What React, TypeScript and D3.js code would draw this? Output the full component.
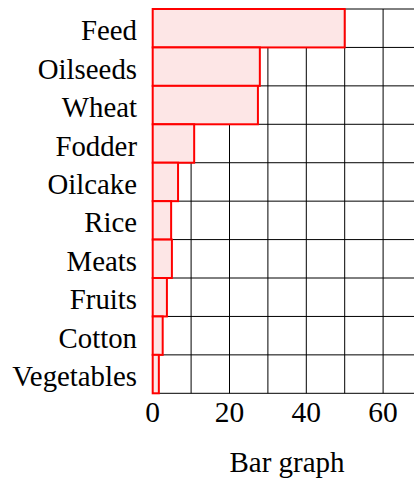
import React from "react";
import * as d3 from "d3";

const categories = ["Feed", "Oilseeds", "Wheat", "Fodder", "Oilcake", "Rice", "Meats", "Fruits", "Cotton", "Vegetables"];
const values = [50, 27.9, 27.4, 10.8, 6.6, 4.8, 5.0, 3.7, 2.6, 1.6];
const xTicks = [0, 20, 40, 60];
const xGrid = [0, 10, 20, 30, 40, 50, 60];
const xLabel = "Bar graph";

const W = 414, H = 478;
const left = 152.7, top = 9, bottom = 393.3, right = 414;

export default function App() {
  const x = d3.scaleLinear().domain([0, 68]).range([left, left + 68 * 3.84]);
  const y = d3.scaleBand<string>().domain(categories).range([top, bottom]).padding(0);
  const font = "'Liberation Serif', 'Times New Roman', serif";
  const rowLines = categories.map((c) => y(c)!).concat([bottom]);
  return (
    <svg width={W} height={H} style={{ position: "absolute", left: 0, top: 0 }}>
      <rect x={0} y={0} width={W} height={H} fill="#fff" />
      {xGrid.map((t) => (
        <line key={"v" + t} x1={x(t)} x2={x(t)} y1={top} y2={bottom} stroke="#000" strokeWidth={1} />
      ))}
      {rowLines.map((yy, i) => (
        <line key={"h" + i} x1={left} x2={right} y1={yy} y2={yy} stroke="#000" strokeWidth={1} />
      ))}
      {categories.map((c, i) => (
        <rect key={c} x={x(0)} y={y(c)!} width={x(values[i]) - x(0)} height={y.bandwidth()}
          fill="#fde6e6" stroke="#ff0000" strokeWidth={2} />
      ))}
      {categories.map((c) => (
        <text key={"l" + c} x={137} y={y(c)! + y.bandwidth() / 2 + 12} textAnchor="end"
          fontFamily={font} fontSize={28.8} fill="#000">{c}</text>
      ))}
      {xTicks.map((t) => (
        <text key={"t" + t} x={x(t)} y={422} textAnchor="middle" fontFamily={font} fontSize={29.5} fill="#000">{t}</text>
      ))}
      <text x={287} y={472} textAnchor="middle" fontFamily={font} fontSize={29} fill="#000">{xLabel}</text>
    </svg>
  );
}
